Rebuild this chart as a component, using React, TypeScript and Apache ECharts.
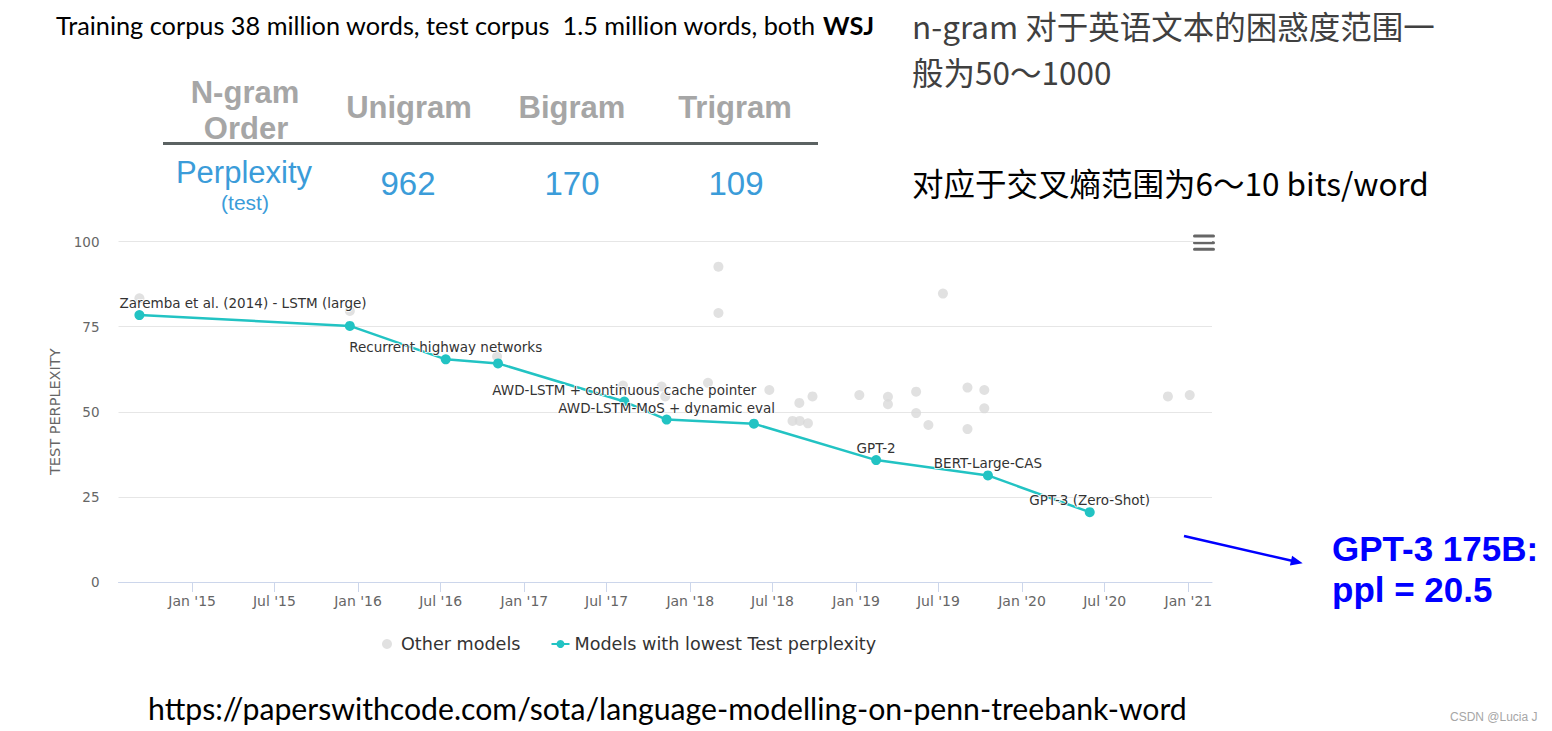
import React, { useEffect, useRef } from "react";
import * as echarts from "echarts";

// ---------- data ----------
const xMin = "2014-07-23";
const xMax = "2021-02-22";

const tickDates = [
  "2015-01-01", "2015-07-01", "2016-01-01", "2016-07-01", "2017-01-01", "2017-07-01",
  "2018-01-01", "2018-07-01", "2019-01-01", "2019-07-01", "2020-01-01", "2020-07-01", "2021-01-01",
];
const tickLabels = [
  "Jan '15", "Jul '15", "Jan '16", "Jul '16", "Jan '17", "Jul '17",
  "Jan '18", "Jul '18", "Jan '19", "Jul '19", "Jan '20", "Jul '20", "Jan '21",
];

const lowestDates = [
  "2014-09-07", "2015-12-14", "2016-07-12", "2016-11-04", "2017-08-09",
  "2017-11-10", "2018-05-21", "2019-02-14", "2019-10-18", "2020-05-29",
];
const lowestValues = [78.4, 75.2, 65.4, 64.2, 53.0, 47.7, 46.5, 35.8, 31.3, 20.5];
const lowestLabels = [
  "Zaremba et al. (2014) - LSTM (large)", "", "Recurrent highway networks", "",
  "AWD-LSTM + continuous cache pointer", "AWD-LSTM-MoS + dynamic eval", "",
  "GPT-2", "BERT-Large-CAS", "GPT-3 (Zero-Shot)",
];

const otherDates = [
  "2014-09-07", "2015-12-14", "2016-11-02", "2017-08-06", "2017-10-30", "2017-11-07",
  "2018-02-09", "2018-03-04", "2018-03-04", "2018-06-24", "2018-08-14", "2018-08-29",
  "2018-08-30", "2018-09-17", "2018-09-27", "2019-01-08", "2019-03-12", "2019-03-12",
  "2019-05-13", "2019-05-13", "2019-06-09", "2019-07-11", "2019-09-03", "2019-09-03",
  "2019-10-10", "2019-10-10", "2020-11-17", "2021-01-04",
];
const otherValues = [
  83.3, 79.6, 66.2, 57.7, 57.4, 54.5,
  58.5, 92.6, 79.0, 56.4, 47.3, 52.6,
  47.3, 46.6, 54.5, 54.9, 54.4, 52.2,
  55.9, 49.6, 46.1, 84.7, 57.1, 44.9,
  56.4, 51.0, 54.5, 54.9,
];

const seriesNames = ["Other models", "Models with lowest Test perplexity"];

const ngramOrders = ["Unigram", "Bigram", "Trigram"];
const ngramPerplexities = ["962", "170", "109"];

// ---------- helpers ----------
const toTs = (s: string) => {
  const [y, m, d] = s.split("-").map(Number);
  return Date.UTC(y, m - 1, d);
};

const CHART_FONT = "'DejaVu Sans', sans-serif";
const TEAL = "#22c3c3";
const GREY_DOT = "#d9d9d9";

function txt(
  text: string,
  x: number,
  y: number,
  font: string,
  fill: string,
  align: string = "left"
) {
  return {
    type: "text",
    silent: true,
    style: {
      text,
      x,
      y,
      font,
      fill,
      align,
      verticalAlign: "middle",
      textAlign: align,
      textVerticalAlign: "middle",
    },
  };
}

export default function App() {
  const ref = useRef<HTMLDivElement>(null);

  useEffect(() => {
    if (!ref.current) return;
    const chart = echarts.init(ref.current, undefined, { renderer: "svg" });

    const tickTs = tickDates.map(toTs);
    const fmt = (val: number) => {
      let best = 0;
      tickTs.forEach((t, i) => {
        if (Math.abs(t - val) < Math.abs(tickTs[best] - val)) best = i;
      });
      return tickLabels[best];
    };

    const otherData = otherDates.map((d, i) => [toTs(d), otherValues[i]]);
    const lowestData = lowestDates.map((d, i) => {
      const lbl = lowestLabels[i];
      const item: any = { value: [toTs(d), lowestValues[i]] };
      if (lbl) {
        item.label = { show: true, formatter: lbl };
        if (i === 0) {
          item.label.align = "left";
          item.label.offset = [-20, 0];
        }
      } else {
        item.label = { show: false };
      }
      return item;
    });

    // arrow geometry
    const ax0 = 1184, ay0 = 536, ax1 = 1302.7, ay1 = 563.3;
    const len = Math.hypot(ax1 - ax0, ay1 - ay0);
    const ux = (ax1 - ax0) / len, uy = (ay1 - ay0) / len;
    const bx = ax1 - ux * 12, by = ay1 - uy * 12;
    const px = -uy, py = ux;

    const headFont = "bold 31px 'Liberation Sans', Arial, sans-serif";
    const blue = "#3b9cd9";

    const graphics: any[] = [
      txt("Training corpus 38 million words, test corpus  1.5 million words, both", 56, 25,
        "25.3px Lato, sans-serif", "#000"),
      txt("WSJ", 823, 25, "bold 25.3px Lato, sans-serif", "#000"),
      txt("N-gram", 245, 92, headFont, "#a6a6a6", "center"),
      txt("Order", 246, 128, headFont, "#a6a6a6", "center"),
      ...ngramOrders.map((o, i) => txt(o, [409, 572, 735][i], 107, headFont, "#a6a6a6", "center")),
      {
        type: "line",
        silent: true,
        shape: { x1: 163, y1: 143.5, x2: 818, y2: 143.5 },
        style: { stroke: "#5b6262", lineWidth: 3 },
      },
      txt("Perplexity", 244, 172, "31px 'Liberation Sans', Arial, sans-serif", blue, "center"),
      txt("(test)", 245, 202, "21px 'Liberation Sans', Arial, sans-serif", blue, "center"),
      ...ngramPerplexities.map((p, i) =>
        txt(p, [408, 572, 736][i], 183, "33px 'Liberation Sans', Arial, sans-serif", blue, "center")),
      txt("n-gram 对于英语文本的困惑度范围一", 912, 25, "31.5px 'Noto Sans CJK SC', sans-serif", "#404040"),
      txt("般为50～1000", 912, 71, "31.5px 'Noto Sans CJK SC', sans-serif", "#404040"),
      txt("对应于交叉熵范围为6～10 bits/word", 912, 182, "31.5px 'Noto Sans CJK SC', sans-serif", "#000"),
      txt("GPT-3 175B:", 1332, 548, "bold 35px 'Liberation Sans', Arial, sans-serif", "#0000ff"),
      txt("ppl = 20.5", 1332, 589, "bold 35px 'Liberation Sans', Arial, sans-serif", "#0000ff"),
      {
        type: "line",
        silent: true,
        shape: { x1: ax0, y1: ay0, x2: bx + ux * 2, y2: by + uy * 2 },
        style: { stroke: "#0000ff", lineWidth: 2.5 },
      },
      {
        type: "polygon",
        silent: true,
        shape: {
          points: [
            [ax1, ay1],
            [bx + px * 5, by + py * 5],
            [bx - px * 5, by - py * 5],
          ],
        },
        style: { fill: "#0000ff" },
      },
      txt("https://paperswithcode.com/sota/language-modelling-on-penn-treebank-word", 148, 708,
        "30.2px Lato, sans-serif", "#000"),
      txt("CSDN @Lucia J", 1450, 717, "12px 'Liberation Sans', Arial, sans-serif", "#a6a6a6"),
      ...[236, 242.7, 249.3].map((cy) => ({
        type: "rect",
        silent: true,
        shape: { x: 1193, y: cy - 1.5, width: 22, height: 3, r: 1.5 },
        style: { fill: "#666" },
      })),
    ];

    chart.setOption({
      animation: false,
      backgroundColor: "#ffffff",
      grid: {
        left: 118.5,
        right: 340,
        top: 241.5,
        bottom: 149,
        containLabel: false,
        outerBoundsMode: "none",
      },
      legend: {
        left: 377,
        top: 630,
        itemWidth: 18,
        itemHeight: 10,
        itemGap: 30,
        selectedMode: false,
        data: seriesNames,
        textStyle: { color: "#333", fontSize: 17.6, fontFamily: CHART_FONT },
      },
      xAxis: {
        type: "value",
        min: toTs(xMin),
        max: toTs(xMax),
        scale: true,
        splitLine: { show: false },
        axisLine: { show: true, onZero: false, lineStyle: { color: "#ccd6eb", width: 1 } },
        axisTick: {
          show: true,
          customValues: tickTs,
          length: 10,
          lineStyle: { color: "#ccd6eb", width: 1 },
        },
        axisLabel: {
          customValues: tickTs,
          formatter: fmt,
          color: "#666",
          fontSize: 14,
          fontFamily: CHART_FONT,
          margin: 12,
        },
      },
      yAxis: {
        type: "value",
        min: 0,
        max: 100,
        interval: 25,
        name: "TEST PERPLEXITY",
        nameLocation: "middle",
        nameRotate: 90,
        nameGap: 56,
        nameTextStyle: { color: "#666", fontSize: 14.5, fontFamily: CHART_FONT },
        axisLine: { show: false },
        axisTick: { show: false },
        axisLabel: { color: "#666", fontSize: 13.5, fontFamily: CHART_FONT, margin: 19 },
        splitLine: { show: true, lineStyle: { color: "#e6e6e6", width: 1 } },
      },
      series: [
        {
          name: seriesNames[0],
          type: "scatter",
          symbol: "circle",
          symbolSize: 10,
          itemStyle: { color: GREY_DOT },
          data: otherData,
          z: 1,
          emphasis: { disabled: true },
        },
        {
          name: seriesNames[1],
          type: "line",
          symbol: "circle",
          symbolSize: 10,
          showAllSymbol: true,
          lineStyle: { color: TEAL, width: 2.5 },
          itemStyle: { color: TEAL },
          label: {
            show: false,
            position: "top",
            distance: 0,
            color: "#333",
            fontSize: 13.5,
            fontFamily: CHART_FONT,
            textBorderColor: "#fff",
            textBorderWidth: 1.5,
          },
          data: lowestData,
          z: 3,
          emphasis: { disabled: true },
        },
      ],
      graphic: graphics,
    });

    return () => chart.dispose();
  }, []);

  return (
    <div
      ref={ref}
      style={{ position: "absolute", left: 0, top: 0, width: 1552, height: 731, background: "#fff" }}
    />
  );
}
